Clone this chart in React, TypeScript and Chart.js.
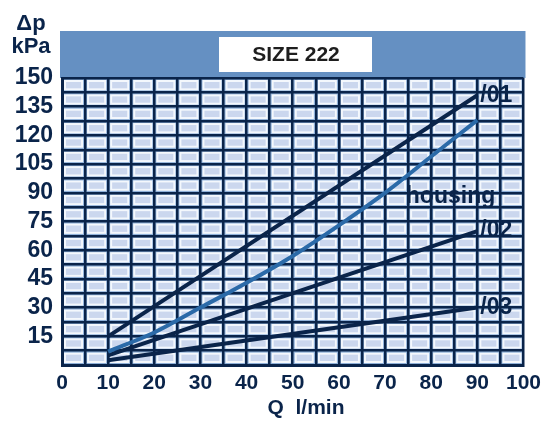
import React, { useEffect, useRef } from "react";
import { Chart, registerables } from "chart.js";

Chart.register(...registerables);

const flowQ = [10, 90];
const series01 = [15, 141];
const series02 = [5, 70];
const series03 = [2.5, 30];
const housingQ = [10, 20, 30, 40, 50, 60, 70, 80, 90];
const seriesHousing = [7, 17, 30, 43, 57, 73, 90, 109, 128];
const xTickValues = [0, 10, 20, 30, 40, 50, 60, 70, 80, 90, 100];
const yTickValues = [15, 30, 45, 60, 75, 90, 105, 120, 135, 150];
const titleText = "SIZE 222";

const NAVY = "#0a244a";
const FONT = "'Liberation Sans', Arial, sans-serif";

const decorPlugin = {
  id: "decor",
  beforeDraw(chart: any) {
    const { ctx, chartArea } = chart;
    const { left, right, top, bottom } = chartArea;
    const xs = chart.scales.x;
    const ys = chart.scales.y;
    ctx.save();
    // header band
    ctx.fillStyle = "#6590c2";
    ctx.fillRect(left - 2, 31, right - left + 4, top - 31);
    // white title box
    ctx.fillStyle = "#ffffff";
    ctx.fillRect(219, 37, 153, 35);
    ctx.fillStyle = "#1e1e1e";
    ctx.font = `bold 21px ${FONT}`;
    ctx.textAlign = "center";
    ctx.textBaseline = "middle";
    ctx.fillText(titleText, 296, 55);
    // cells
    ctx.fillStyle = "#8fb0d8";
    ctx.fillRect(left, top, right - left, bottom - top);
    for (let gx = 0; gx < 100; gx += 5) {
      for (let gy = 0; gy < 150; gy += 7.5) {
        const x1 = xs.getPixelForValue(gx);
        const x2 = xs.getPixelForValue(gx + 5);
        const y1 = ys.getPixelForValue(gy + 7.5);
        const y2 = ys.getPixelForValue(gy);
        ctx.fillStyle = "#f4f8fd";
        ctx.fillRect(x1 + 2, y1 + 2, x2 - x1 - 4, y2 - y1 - 4);
        ctx.fillStyle = "#cbd7ee";
        ctx.fillRect(x1 + 4, y1 + 4, x2 - x1 - 8, y2 - y1 - 8);
      }
    }
    // axis titles
    ctx.fillStyle = NAVY;
    ctx.font = `bold 22px ${FONT}`;
    ctx.textAlign = "center";
    ctx.fillText("Δp", 31, 24);
    ctx.fillText("kPa", 31, 47);
    ctx.font = `bold 21px ${FONT}`;
    ctx.fillText("Q  l/min", 306, 408);
    ctx.restore();
  },
  afterDatasetsDraw(chart: any) {
    const { ctx } = chart;
    const xs = chart.scales.x;
    const ys = chart.scales.y;
    ctx.save();
    ctx.fillStyle = NAVY;
    ctx.font = `bold 23px ${FONT}`;
    ctx.textBaseline = "middle";
    ctx.textAlign = "left";
    const lastX = flowQ[flowQ.length - 1];
    const labels: [string, number][] = [
      ["/01", series01[series01.length - 1]],
      ["/02", series02[series02.length - 1]],
      ["/03", series03[series03.length - 1]],
    ];
    for (const [t, v] of labels) {
      ctx.fillText(t, xs.getPixelForValue(lastX) + 3, ys.getPixelForValue(v));
    }
    ctx.fillText("housing", xs.getPixelForValue(74.5), ys.getPixelForValue(88));
    ctx.restore();
  },
};

export default function App() {
  const ref = useRef<HTMLCanvasElement>(null);
  useEffect(() => {
    const mk = (xs: number[], d: number[]) => xs.map((x, i) => ({ x, y: d[i] }));
    const chart = new Chart(ref.current!, {
      type: "line",
      data: {
        datasets: [
          { label: "/01", data: mk(flowQ, series01), borderColor: NAVY, borderWidth: 4, pointRadius: 0 },
          { label: "housing", data: mk(housingQ, seriesHousing), borderColor: "#2b6aa8", borderWidth: 4, pointRadius: 0, cubicInterpolationMode: "monotone" },
          { label: "/02", data: mk(flowQ, series02), borderColor: NAVY, borderWidth: 4, pointRadius: 0 },
          { label: "/03", data: mk(flowQ, series03), borderColor: NAVY, borderWidth: 4, pointRadius: 0 },
        ],
      },
      options: {
        animation: false,
        responsive: false,
        maintainAspectRatio: false,
        layout: { padding: { left: 0, top: 78, right: 21, bottom: 0 } },
        plugins: { legend: { display: false }, tooltip: { enabled: false } },
        scales: {
          x: {
            type: "linear",
            min: 0,
            max: 100,
            afterFit: (s: any) => { s.height = 58; },
            afterBuildTicks: (s: any) => {
              const t = [];
              for (let v = 0; v <= 100; v += 5) t.push({ value: v });
              s.ticks = t;
            },
            ticks: {
              autoSkip: false,
              maxRotation: 0,
              padding: 6,
              color: NAVY,
              font: { family: FONT, size: 21, weight: "bold" },
              callback: (v: any) => (xTickValues.includes(Number(v)) ? String(v) : ""),
            },
            grid: { color: NAVY, lineWidth: 2.5, drawTicks: false },
            border: { color: NAVY, width: 3 },
          },
          y: {
            type: "linear",
            min: 0,
            max: 150,
            afterFit: (s: any) => { s.width = 62; },
            afterBuildTicks: (s: any) => {
              const t = [];
              for (let v = 0; v <= 150; v += 7.5) t.push({ value: v });
              s.ticks = t;
            },
            ticks: {
              autoSkip: false,
              padding: 9,
              color: NAVY,
              font: { family: FONT, size: 23, weight: "bold" },
              callback: (v: any) => (yTickValues.includes(Number(v)) ? String(v) : ""),
            },
            grid: { color: NAVY, lineWidth: 2.5, drawTicks: false },
            border: { color: NAVY, width: 3 },
          },
        },
      },
      plugins: [decorPlugin],
    } as any);
    return () => chart.destroy();
  }, []);
  return (
    <div style={{ position: "absolute", left: 0, top: 0, width: 547, height: 423, background: "#fff" }}>
      <canvas ref={ref} width={547} height={423} style={{ width: 547, height: 423 }} />
    </div>
  );
}
